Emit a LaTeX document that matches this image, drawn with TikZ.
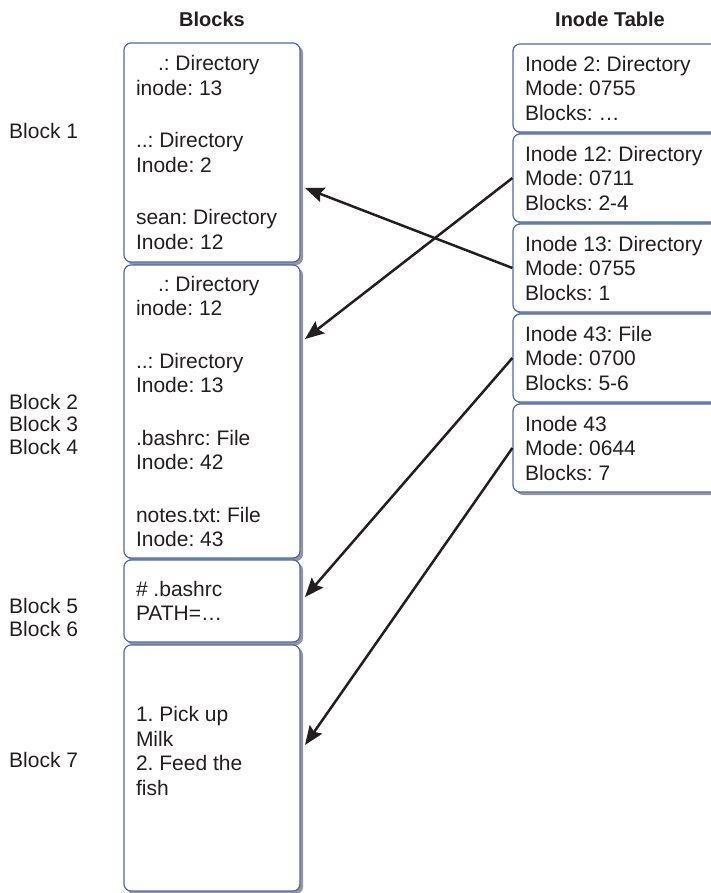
\documentclass[tikz,border=0pt]{standalone}
\usepackage{fontspec}
\setmainfont{Liberation Sans}
\usetikzlibrary{arrows.meta,shadows}
\definecolor{boxblue}{RGB}{72,106,180}
\definecolor{inktext}{RGB}{35,31,32}
\tikzset{
	blockbox/.style={draw=boxblue, line width=1.2pt, rounded corners=7pt, fill=white,
		drop shadow={shadow xshift=3pt, shadow yshift=-3pt, opacity=0.55, fill=black!75},
		text width=152pt, inner xsep=12pt, inner ysep=0pt, align=flush left, text=inktext,
		font={\fontsize{21}{24.5}\selectfont\frenchspacing\hyphenpenalty=10000\relax}},
	inodebox/.style={blockbox, text width=185pt, minimum height=88pt},
	blocklabel/.style={anchor=west, align=left, text=inktext, inner sep=0pt,
		font=\fontsize{21}{22.5}\selectfont},
	heading/.style={text=inktext, font=\fontsize{20}{24}\selectfont\bfseries},
	ptr/.style={line width=2.5pt, inktext, -{Stealth[length=19pt,width=15pt,inset=3pt]}}
}

\begin{document}
\begin{tikzpicture}[x=1pt, y=-1pt]
		%%%%% START %%%%%
		\useasboundingbox (0, 0) rectangle (711, 893);
		
		\node[heading] (hblocks) at (212, 19) {Blocks};
		\node[heading] (hinodes) at (610, 19) {Inode Table};
		
		% data blocks
		\node[blockbox, minimum height=219pt] (b1) at (212, 152.5)
			{\hspace*{22pt}.: Directory\\inode: 13\\[28pt]..: Directory\\Inode: 2\\[28pt]sean: Directory\\Inode: 12};
		\node[blockbox, minimum height=293pt] (b2) at (212, 411.5)
			{\hspace*{22pt}.: Directory\\inode: 12\\[28pt]..: Directory\\Inode: 13\\[28pt].bashrc: File\\Inode: 42\\[28pt]notes.txt: File\\Inode: 43};
		\node[blockbox, minimum height=82pt] (b5) at (212, 601)
			{\# .bashrc\\PATH=…};
		\node[blockbox, minimum height=246pt] (b7) at (212, 768)
			{1. Pick up\\Milk\\2. Feed the\\fish\\[10pt]\mbox{}};
		
		\node[blocklabel] (l1) at (9, 131) {Block 1};
		\node[blocklabel] (l2) at (9, 424) {Block 2\\Block 3\\Block 4};
		\node[blocklabel] (l5) at (9, 617.5) {Block 5\\Block 6};
		\node[blocklabel] (l7) at (9, 760) {Block 7};
		
		% inode table
		\node[inodebox] (i2) at (617.5, 88) {Inode 2: Directory\\Mode: 0755\\Blocks: …};
		\node[inodebox] (i12) at (617.5, 178) {Inode 12: Directory\\Mode: 0711\\Blocks: 2-4};
		\node[inodebox] (i13) at (617.5, 268) {Inode 13: Directory\\Mode: 0755\\Blocks: 1};
		\node[inodebox] (i43f) at (617.5, 358) {Inode 43: File\\Mode: 0700\\Blocks: 5-6};
		\node[inodebox] (i43) at (617.5, 448) {Inode 43\\Mode: 0644\\Blocks: 7};
		
		% pointers
		\coordinate (t1) at (305, 188);
		\coordinate (t2) at (305, 339);
		\coordinate (t5) at (305, 597);
		\coordinate (t7) at (305, 745);
		\draw[ptr] (i13.west) -- (t1);
		\draw[ptr] (i12.west) -- (t2);
		\draw[ptr] (i43f.west) -- (t5);
		\draw[ptr] (i43.west) -- (t7);
		
		%%%%% END %%%%%
	\end{tikzpicture}
\end{document}
